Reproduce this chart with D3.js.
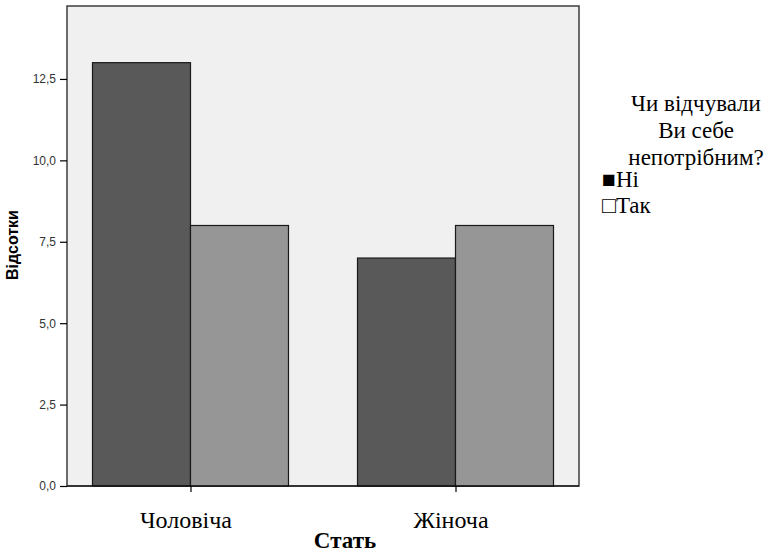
<!DOCTYPE html>
<html><head><meta charset="utf-8">
<script src="https://cdn.jsdelivr.net/npm/d3@7"></script>
<style>body{margin:0;background:#fff}</style>
</head><body>
<svg id="c" width="769" height="553"></svg>
<script>
const categories = ["Чоловіча", "Жіноча"];
const seriesNames = ["Ні", "Так"];
const valuesNi = [13, 7];
const valuesTak = [8, 8];
const yTicks = [0, 2.5, 5, 7.5, 10, 12.5];
const yTickLabels = ["0,0", "2,5", "5,0", "7,5", "10,0", "12,5"];
const legendTitle = ["Чи відчували", "Ви себе", "непотрібним?"];

const SERIF = '"Liberation Serif"';
const SANS = '"Liberation Sans"';

const svg = d3.select("#c");
const L = 67, R = 579, T = 6, B = 486;
const y = d3.scaleLinear().domain([0, 14.74]).range([B, T]);
const x = d3.scalePoint().domain(categories).range([L, R]).padding(0.466);
const bw = 98;
const colors = ["#595959", "#969696"];

svg.append("rect").attr("x", L).attr("y", T).attr("width", R - L).attr("height", B - T)
  .attr("fill", "#f0f0f0").attr("stroke", "#3c3c3c").attr("stroke-width", 1.5);

const series = [valuesNi, valuesTak];
series.forEach((vals, si) => {
  svg.selectAll(null).data(categories).enter().append("rect")
    .attr("x", d => x(d) - bw + si * bw)
    .attr("y", (d, i) => y(vals[i]))
    .attr("width", bw)
    .attr("height", (d, i) => B - y(vals[i]))
    .attr("fill", colors[si]).attr("stroke", "#1a1a1a").attr("stroke-width", 1.2);
});

// y axis
const ya = svg.append("g").attr("transform", `translate(${L},0)`)
  .call(d3.axisLeft(y).tickValues(yTicks).tickSize(7).tickFormat((d, i) => yTickLabels[i]));
ya.select(".domain").remove();
ya.selectAll("line").attr("stroke", "#000").attr("stroke-width", 1.2);
ya.selectAll("text").style("font-family", SANS).style("font-size", "12px").attr("fill", "#333").attr("dx", -1);

// x axis
const xa = svg.append("g").attr("transform", `translate(0,${B})`)
  .call(d3.axisBottom(x).tickSize(6).tickPadding(19));
xa.select(".domain").attr("stroke", "#000").attr("d", `M${L},0H${R}`).attr("stroke-width", 1.2);
xa.selectAll("line").attr("stroke", "#000").attr("stroke-width", 1.2);
xa.selectAll("text").style("font-family", SERIF).style("font-size", "24px").attr("fill", "#000").attr("dx", -5);

svg.append("text").attr("x", 345).attr("y", 548).attr("text-anchor", "middle")
  .style("font-family", SERIF).style("font-weight", "bold").style("font-size", "23px").text("Стать");

svg.append("text").attr("transform", "translate(18,245) rotate(-90)").attr("text-anchor", "middle")
  .style("font-family", SANS).style("font-weight", "bold").style("font-size", "16px").text("Відсотки");

// legend
const lg = svg.append("g").attr("fill", "#000");
legendTitle.forEach((t, i) => {
  lg.append("text").style("font-family", SERIF).style("font-size", "23px")
    .attr("x", 696).attr("y", 111 + i * 27).attr("text-anchor", "middle").text(t);
});
seriesNames.forEach((s, i) => {
  lg.append("text").style("font-family", SERIF).style("font-size", "23px")
    .attr("x", 602).attr("y", 187 + i * 26).text((i === 0 ? "■" : "□") + s);
});
</script>
</body></html>
